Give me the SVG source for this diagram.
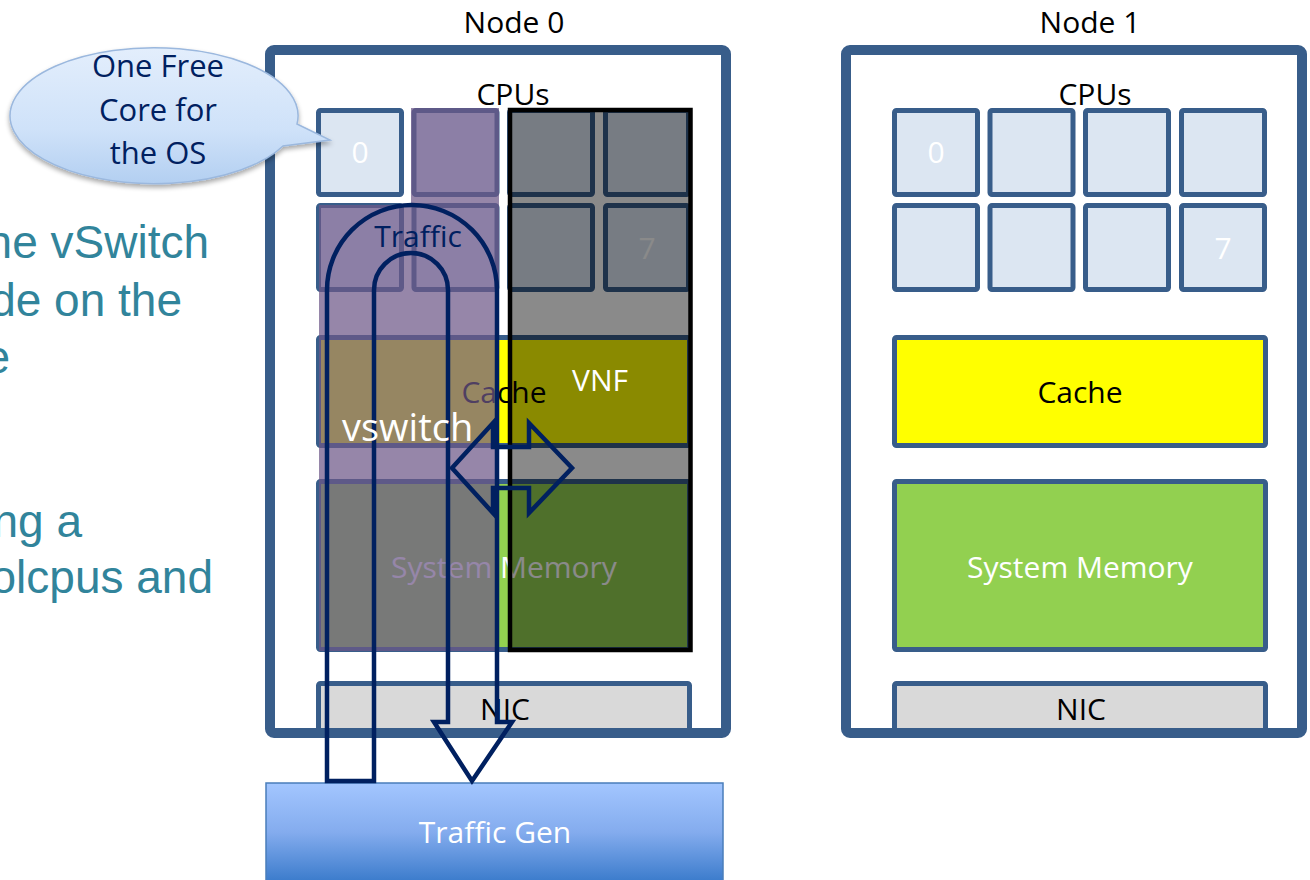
<svg xmlns="http://www.w3.org/2000/svg" width="1310" height="880" viewBox="0 0 1310 880">
  <defs>
    <style>
      .lbl { font-family: "Open Sans", "Liberation Sans", sans-serif; font-size: 30px; }
      .big { font-size: 38px; }
      .note { font-size: 31px; }
      .mid { text-anchor: middle; }
      .box { fill: none; stroke: #385D8A; stroke-width: 10; }
      .boxbg { fill: #FFFFFF; }
      .cell { fill: #DCE6F2; stroke: #385D8A; stroke-width: 5; }
      .cache { fill: #FFFF00; stroke: #385D8A; stroke-width: 5; }
      .mem { fill: #92D050; stroke: #385D8A; stroke-width: 5; }
      .nic { fill: #D9D9D9; stroke: #385D8A; stroke-width: 5; }
      .white { fill: #FFFFFF; }
      .black { fill: #000000; }
      .navy { fill: #002060; }
      .flow { fill: none; stroke: #002060; stroke-width: 4.5; stroke-linejoin: miter; }
      .side { font-family: "Liberation Sans", Arial, sans-serif; font-size: 46px; fill: #31849B; text-anchor: end; }
    </style>
    <linearGradient id="genGrad" x1="0" y1="0" x2="0" y2="1">
      <stop offset="0" stop-color="#A3C6FF"/>
      <stop offset="0.5" stop-color="#84ACEE"/>
      <stop offset="1" stop-color="#3C7CCC"/>
    </linearGradient>
    <linearGradient id="bubbleGrad" x1="0" y1="0" x2="0" y2="1">
      <stop offset="0" stop-color="#E3EEFC"/>
      <stop offset="0.6" stop-color="#CFE2F9"/>
      <stop offset="1" stop-color="#B3CFF1"/>
    </linearGradient>
    <filter id="softShadow" x="-10%" y="-10%" width="120%" height="130%">
      <feGaussianBlur in="SourceAlpha" stdDeviation="2.5"/>
      <feOffset dx="0" dy="3" result="b"/>
      <feComponentTransfer><feFuncA type="linear" slope="0.35"/></feComponentTransfer>
      <feMerge><feMergeNode/><feMergeNode in="SourceGraphic"/></feMerge>
    </filter>
  </defs>

  <rect width="1310" height="880" fill="#FFFFFF"/>

  <!-- side notes, partly running off the left edge -->
  <g id="side-notes">
    <text class="side" x="209" y="258">he vSwitch</text>
    <text class="side" x="182" y="316">de on the</text>
    <text class="side" x="10" y="373">e</text>
    <text class="side" x="82" y="537">ng a</text>
    <text class="side" x="213" y="593">olcpus and</text>
  </g>

  <!-- NUMA node 0 -->
  <g id="node0">
    <text class="lbl mid black" x="514" y="33">Node 0</text>
    <rect class="boxbg" x="270" y="50" width="456" height="683" rx="4"/>
    <text class="lbl mid black" x="513" y="105">CPUs</text>
    <rect class="cell" x="318.5" y="110.5" width="83" height="84" rx="2"/>
    <rect class="cell" x="414" y="110.5" width="83" height="84" rx="2"/>
    <rect class="cell" x="509.5" y="110.5" width="83" height="84" rx="2"/>
    <rect class="cell" x="605.5" y="110.5" width="83" height="84" rx="2"/>
    <rect class="cell" x="318.5" y="205.5" width="83" height="84" rx="2"/>
    <rect class="cell" x="414" y="205.5" width="83" height="84" rx="2"/>
    <rect class="cell" x="509.5" y="205.5" width="83" height="84" rx="2"/>
    <rect class="cell" x="605.5" y="205.5" width="83" height="84" rx="2"/>
    <text class="lbl mid white" x="360" y="163">0</text>
    <text class="lbl mid white" x="647" y="259">7</text>
    <rect class="cache" x="318.5" y="337.5" width="371" height="108" rx="2"/>
    <text class="lbl mid black" x="504" y="403">Cache</text>
    <rect class="mem" x="318.5" y="481.5" width="371" height="168" rx="2"/>
    <text class="lbl mid white" x="504" y="578">System Memory</text>
    <rect class="nic" x="318.5" y="683.5" width="371" height="48" rx="2"/>
    <text class="lbl mid black" x="505" y="720">NIC</text>
    <rect class="box" x="270" y="50" width="456" height="683" rx="4"/>
  </g>

  <!-- vswitch cores, cache and memory share -->
  <g id="vswitch">
    <path d="M411,108 H499 V651 H319 V205 H411 Z" fill="#6D5888" fill-opacity="0.72"/>
  </g>

  <!-- VNF cores, cache and memory share -->
  <g id="vnf">
    <rect x="510" y="110" width="180.5" height="540" fill="#000000" fill-opacity="0.46" stroke="#000000" stroke-width="4.5"/>
  </g>

  <!-- NUMA node 1 -->
  <g id="node1">
    <text class="lbl mid black" x="1090" y="33">Node 1</text>
    <rect class="boxbg" x="846" y="50" width="456" height="683" rx="4"/>
    <text class="lbl mid black" x="1095" y="105">CPUs</text>
    <rect class="cell" x="894.5" y="110.5" width="83" height="84" rx="2"/>
    <rect class="cell" x="990" y="110.5" width="83" height="84" rx="2"/>
    <rect class="cell" x="1085.5" y="110.5" width="83" height="84" rx="2"/>
    <rect class="cell" x="1181.5" y="110.5" width="83" height="84" rx="2"/>
    <rect class="cell" x="894.5" y="205.5" width="83" height="84" rx="2"/>
    <rect class="cell" x="990" y="205.5" width="83" height="84" rx="2"/>
    <rect class="cell" x="1085.5" y="205.5" width="83" height="84" rx="2"/>
    <rect class="cell" x="1181.5" y="205.5" width="83" height="84" rx="2"/>
    <text class="lbl mid white" x="936" y="163">0</text>
    <text class="lbl mid white" x="1223" y="259">7</text>
    <rect class="cache" x="894.5" y="337.5" width="371" height="108" rx="2"/>
    <text class="lbl mid black" x="1080" y="403">Cache</text>
    <rect class="mem" x="894.5" y="481.5" width="371" height="168" rx="2"/>
    <text class="lbl mid white" x="1080" y="578">System Memory</text>
    <rect class="nic" x="894.5" y="683.5" width="371" height="48" rx="2"/>
    <text class="lbl mid black" x="1081" y="720">NIC</text>
    <rect class="box" x="846" y="50" width="456" height="683" rx="4"/>
  </g>

  <!-- traffic generator -->
  <g id="traffic-gen">
    <rect x="266" y="783" width="457" height="98" fill="url(#genGrad)" stroke="#4A7EBB" stroke-width="1.5"/>
    <text class="lbl mid white" x="495" y="843">Traffic Gen</text>
  </g>

  <!-- connectors: traffic loop and cache/memory exchange -->
  <g id="connectors">
    <path class="flow" d="M327,781 V290 A85,85 0 0 1 497,290 V722 H512 L472,781 L434,722 H448 V290 A37,37 0 0 0 374,290 V781 Z"/>
    <path class="flow" d="M452,468 L493,423 V447 H529 V423 L572,468 L529,513 V488 H493 V513 Z"/>
  </g>

  <!-- labels on top of the shared regions -->
  <g id="region-labels">
    <text class="lbl mid navy" x="418" y="247">Traffic</text>
    <text class="lbl big white" x="342" y="441">vswitch</text>
    <text class="lbl mid white" x="600" y="391">VNF</text>
  </g>

  <!-- callout -->
  <g id="bubble">
    <path d="M297,124 L330,140 L283,146 A144,68 0 1 1 297,124 Z" fill="url(#bubbleGrad)" stroke="#9BB8DE" stroke-width="1.5" filter="url(#softShadow)"/>
    <text class="lbl note mid navy" x="158" y="77">One Free</text>
    <text class="lbl note mid navy" x="158" y="121">Core for</text>
    <text class="lbl note mid navy" x="158" y="164">the OS</text>
  </g>
</svg>
